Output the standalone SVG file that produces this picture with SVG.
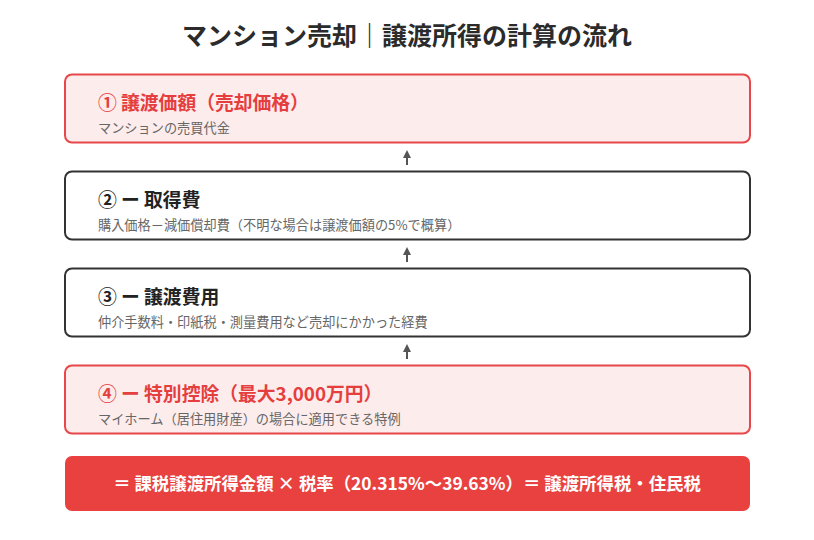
<svg xmlns="http://www.w3.org/2000/svg" width="814" height="540" viewBox="0 0 814 540">
<defs>
<marker id="ah" viewBox="0 0 10 10" refX="5" refY="5" markerWidth="4" markerHeight="4" orient="auto-start-reverse" markerUnits="strokeWidth">
<path d="M0,0 L10,5 L0,10 z" fill="#555"/>
</marker>
<style>
text{font-family:"Noto Sans CJK JP","Noto Sans",sans-serif;}
.title{font-size:25px;font-weight:700;fill:#2b2b2b;}
.box-red{fill:#fdecec;stroke:#e8474a;stroke-width:2;}
.box-dark{fill:#ffffff;stroke:#333333;stroke-width:2;}
.h-red{font-size:18.8px;font-weight:700;fill:#e53e3e;}
.h-dark{font-size:18.8px;font-weight:700;fill:#222222;}
.sub{font-size:13.2px;fill:#666666;}
.final{fill:#e8413f;}
.final-t{font-size:17.4px;font-weight:700;fill:#ffffff;}
.conn{stroke:#555;stroke-width:2;fill:none;}
</style>
</defs>
<rect width="814" height="540" fill="#ffffff"/>
<text class="title" x="407" y="45" text-anchor="middle">マンション売却｜譲渡所得の計算の流れ</text>
<g id="node1">
<rect class="box-red" x="65" y="74.5" width="685" height="68" rx="7"/>
<text class="h-red" x="98" y="110">① 譲渡価額（売却価格）</text>
<text class="sub" x="98" y="133">マンションの売買代金</text>
</g>
<g id="node2">
<rect class="box-dark" x="65" y="171.5" width="685" height="68" rx="7"/>
<text class="h-dark" x="98" y="207">② ー 取得費</text>
<text class="sub" x="98" y="230">購入価格－減価償却費（不明な場合は譲渡価額の5%で概算）</text>
</g>
<g id="node3">
<rect class="box-dark" x="65" y="268.5" width="685" height="68" rx="7"/>
<text class="h-dark" x="98" y="304">③ ー 譲渡費用</text>
<text class="sub" x="98" y="327">仲介手数料・印紙税・測量費用など売却にかかった経費</text>
</g>
<g id="node4">
<rect class="box-red" x="65" y="365.5" width="685" height="68" rx="7"/>
<text class="h-red" x="98" y="401">④ ー 特別控除（最大3,000万円）</text>
<text class="sub" x="98" y="424">マイホーム（居住用財産）の場合に適用できる特例</text>
</g>
<g id="node5">
<rect class="final" x="65" y="456" width="685" height="55" rx="7"/>
<text class="final-t" x="407" y="490" text-anchor="middle">＝ 課税譲渡所得金額 × 税率（20.315%～39.63%）＝ 譲渡所得税・住民税</text>
</g>
<g id="connectors">
<line class="conn" x1="407" y1="165" x2="407" y2="154" marker-end="url(#ah)"/>
<line class="conn" x1="407" y1="262" x2="407" y2="251" marker-end="url(#ah)"/>
<line class="conn" x1="407" y1="359" x2="407" y2="348" marker-end="url(#ah)"/>
</g>
</svg>
